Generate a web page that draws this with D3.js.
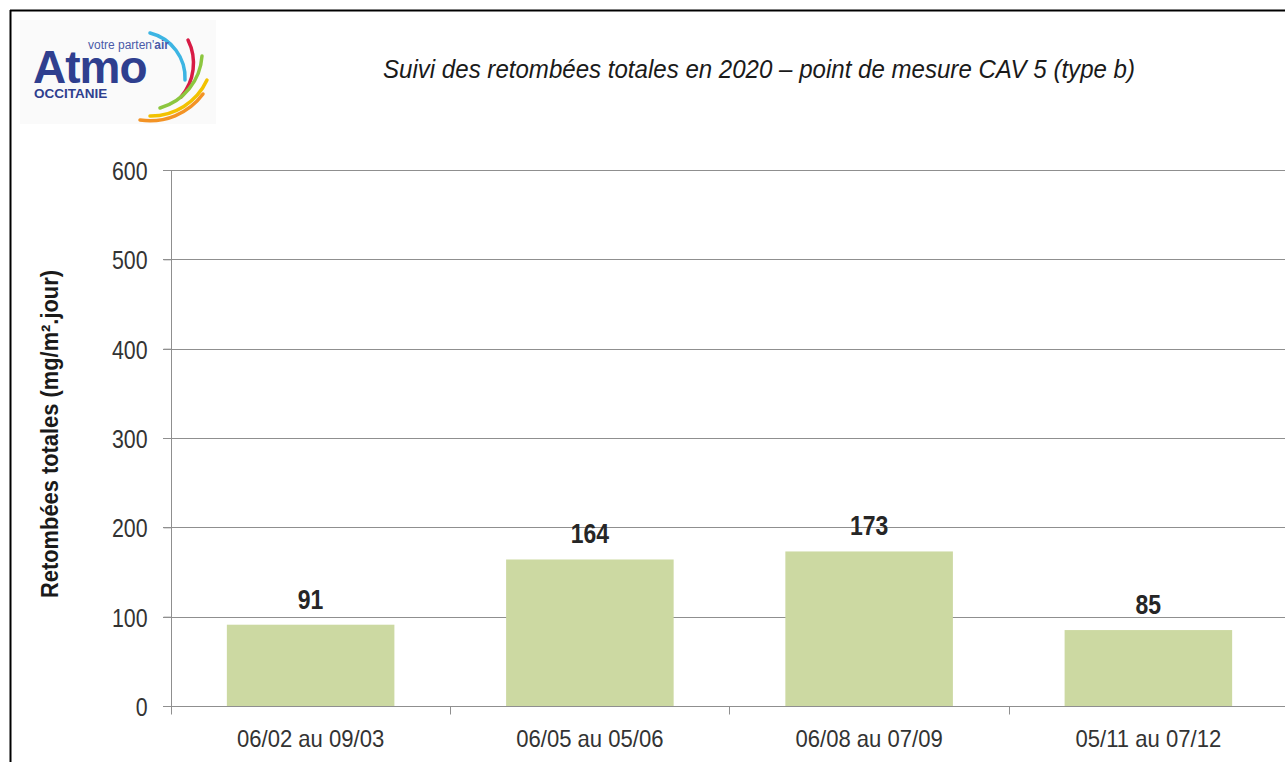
<!DOCTYPE html>
<html>
<head>
<meta charset="utf-8">
<script src="https://cdn.jsdelivr.net/npm/d3@7"></script>
<style>
  html, body { margin: 0; padding: 0; background: #fff; }
  svg { display: block; }
  text { font-family: "Liberation Sans", Arial, sans-serif; }
</style>
</head>
<body>
<svg id="chart" width="1285" height="762"></svg>
<script>
const categories = ["06/02 au 09/03", "06/05 au 05/06", "06/08 au 07/09", "05/11 au 07/12"];
const values = [91, 164, 173, 85];
const yTicks = [0, 100, 200, 300, 400, 500, 600];
const titleText = "Suivi des retombées totales en 2020 – point de mesure CAV 5 (type b)";
const yLabel = "Retombées totales (mg/m².jour)";

const svg = d3.select("#chart");

// narrow-text helper: squeeze glyphs horizontally to mimic a condensed face
function narrow(sel, sx) {
  sel.each(function () {
    const t = d3.select(this);
    const w = this.getComputedTextLength();
    t.attr("textLength", w * sx).attr("lengthAdjust", "spacingAndGlyphs");
  });
}

// frame
svg.append("line").attr("x1", 10.5).attr("x2", 10.5).attr("y1", 10).attr("y2", 762)
  .attr("stroke", "#000").attr("stroke-width", 2);
svg.append("line").attr("x1", 10).attr("x2", 1285).attr("y1", 10.5).attr("y2", 10.5)
  .attr("stroke", "#000").attr("stroke-width", 2);

// logo
const logo = svg.append("g").attr("class", "logo");
logo.append("rect").attr("x", 20).attr("y", 20).attr("width", 196).attr("height", 104).attr("fill", "#fafafa");
const swooshes = [
  {c: "#3db5e3", d: "M150,33 A46,46 0 0 1 185,80"},
  {c: "#d81b45", d: "M188,40 A52,52 0 0 1 181,97"},
  {c: "#8cc63f", d: "M202,56 A58,58 0 0 1 160,108"},
  {c: "#f2c200", d: "M207,80 A62,62 0 0 1 150,116"},
  {c: "#f39325", d: "M203,94 A66,66 0 0 1 140,120"}
];
swooshes.forEach(s => {
  logo.append("path").attr("d", s.d).attr("fill", "none")
    .attr("stroke", s.c).attr("stroke-width", 3.5).attr("stroke-linecap", "round");
});
logo.append("text").attr("x", 33).attr("y", 83).attr("font-size", 46).attr("font-weight", "bold")
  .attr("fill", "#2f3f8f").attr("letter-spacing", -1).text("Atmo");
const vt = logo.append("text").attr("x", 88).attr("y", 49).attr("font-size", 12).attr("fill", "#4a5aa8");
vt.append("tspan").text("votre parten'");
vt.append("tspan").attr("font-weight", "bold").text("air");
logo.append("text").attr("x", 34).attr("y", 98).attr("font-size", 13.5).attr("font-weight", "bold")
  .attr("fill", "#2f3f8f").text("OCCITANIE");

// title
svg.append("text").attr("x", 759).attr("y", 78).attr("text-anchor", "middle")
  .attr("font-size", 25).attr("font-style", "italic").attr("fill", "#1a1a1a")
  .attr("textLength", 752).attr("lengthAdjust", "spacingAndGlyphs").text(titleText);

// scales
const x = d3.scaleBand().domain(categories).range([171, 1288]).paddingInner(0.4).paddingOuter(0.2);
const y = d3.scaleLinear().domain([0, 600]).range([706, 170]);

// gridlines
svg.append("g").selectAll("line").data(yTicks.filter(d => d > 0)).join("line")
  .attr("x1", 163).attr("x2", 1285)
  .attr("y1", d => Math.round(y(d)) + 0.5).attr("y2", d => Math.round(y(d)) + 0.5)
  .attr("stroke", "#8f8f8f").attr("stroke-width", 1);

// bars
svg.append("g").selectAll("rect").data(values).join("rect")
  .attr("x", (d, i) => x(categories[i]))
  .attr("width", x.bandwidth())
  .attr("y", d => y(d))
  .attr("height", d => y(0) - y(d))
  .attr("fill", "#ccd9a2");

// y axis
const yAxis = d3.axisLeft(y).tickValues(yTicks).tickSize(8).tickPadding(16);
const gy = svg.append("g").attr("transform", "translate(171.5,0)").call(yAxis);
gy.select(".domain").attr("stroke", "#8f8f8f").attr("d", "M0,170V713");
gy.selectAll(".tick line").attr("stroke", "#8f8f8f");
gy.selectAll(".tick text").attr("font-size", 26).attr("fill", "#333")
  .attr("font-family", null).attr("dy", "0.36em").call(narrow, 0.82);

// x axis
const gx = svg.append("g").attr("transform", "translate(0,706.5)");
gx.append("line").attr("x1", 163).attr("x2", 1285).attr("y1", 0).attr("y2", 0).attr("stroke", "#8f8f8f");
const bounds = categories.map(c => x(c) - x.step() * x.paddingInner() / 2);
bounds.push(1288);
bounds[0] = 171;
gx.selectAll("line.tk").data(bounds).join("line").attr("class", "tk")
  .attr("x1", d => Math.round(d) + 0.5).attr("x2", d => Math.round(d) + 0.5)
  .attr("y1", 0).attr("y2", 8).attr("stroke", "#8f8f8f");
gx.selectAll("text").data(categories).join("text")
  .attr("x", d => x(d) + x.bandwidth() / 2).attr("y", 40)
  .attr("text-anchor", "middle").attr("font-size", 24).attr("fill", "#333").text(d => d)
  .call(narrow, 0.92);

// value labels
svg.append("g").selectAll("text").data(values).join("text")
  .attr("x", (d, i) => x(categories[i]) + x.bandwidth() / 2)
  .attr("y", d => y(d) - 16)
  .attr("text-anchor", "middle").attr("font-size", 28).attr("font-weight", "bold")
  .attr("fill", "#262626").text(d => d).call(narrow, 0.82);

// y label
svg.append("text").attr("transform", "translate(58,434) rotate(-90)")
  .attr("text-anchor", "middle").attr("font-size", 24).attr("font-weight", "bold")
  .attr("fill", "#1a1a1a").attr("textLength", 328).attr("lengthAdjust", "spacingAndGlyphs")
  .text(yLabel);
</script>
</body>
</html>
